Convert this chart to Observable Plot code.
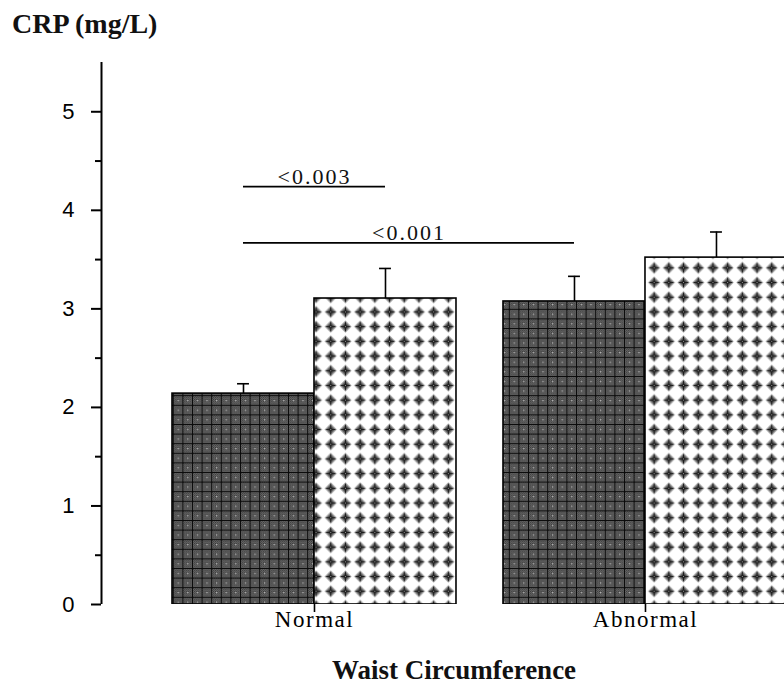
<!DOCTYPE html>
<html>
<head>
<meta charset="utf-8">
<script src="https://cdn.jsdelivr.net/npm/d3@7"></script>
<script src="https://cdn.jsdelivr.net/npm/@observablehq/plot@0.6"></script>
<style>
  html, body { margin: 0; padding: 0; background: white; }
  body { width: 784px; height: 690px; overflow: hidden; position: relative; }
  #title { position: absolute; left: 12px; top: 10px; font: bold 28px/27px "Liberation Serif", serif; color: #111; white-space: nowrap; }
  #chart { position: absolute; left: 0; top: 40px; }
  #xlabel { position: absolute; left: 454px; top: 657px; transform: translateX(-50%); font: bold 27px/27px "Liberation Serif", serif; color: #111; white-space: nowrap; }
  g[aria-label="x-axis tick label"] text { letter-spacing: 1.5px; }
  g[aria-label="text"] text { letter-spacing: 2px; }
</style>
</head>
<body>
<div id="title">CRP (mg/L)</div>
<div id="chart"></div>
<div id="xlabel">Waist Circumference</div>
<script>
// ---- data ----
const groups = ["Normal", "Abnormal"];
const meanSeries1 = [2.14, 3.075];   // dark cross-hatched bars
const upperSeries1 = [2.24, 3.33];   // top of error bars
const meanSeries2 = [3.105, 3.52];   // dotted bars
const upperSeries2 = [3.41, 3.78];
const yTicks = [0, 1, 2, 3, 4, 5];
const yMinorTicks = [0.5, 1.5, 2.5, 3.5, 4.5];
const pLabels = ["<0.003", "<0.001"];
const pLevels = [4.24, 3.67];
const pFromGroup = ["Normal", "Normal"];
const pFromSeries = [0, 0];
const pToGroup = ["Normal", "Abnormal"];
const pToSeries = [1, 0];

// ---- layout constants ----
const HW = 0.429;   // bar width in group units
const CAP = 0.018;  // half width of error-bar caps
const X0 = 0.3565;  // x position of y axis
const X1 = 2.42;

const bars = groups.flatMap((g, gi) => [
  {group: g, gi: gi + 1, s: 0, mean: meanSeries1[gi], upper: upperSeries1[gi]},
  {group: g, gi: gi + 1, s: 1, mean: meanSeries2[gi], upper: upperSeries2[gi]}
]);
const center = (g, s) => groups.indexOf(g) + 1 + (s ? HW / 2 : -HW / 2);
const comps = pLabels.map((label, i) => ({
  label, level: pLevels[i],
  x1: center(pFromGroup[i], pFromSeries[i]),
  x2: center(pToGroup[i], pToSeries[i])
}));

const plot = Plot.plot({
  width: 784, height: 600,
  marginLeft: 101, marginRight: 0, marginTop: 22, marginBottom: 36,
  x: {type: "linear", domain: [X0, X1], axis: null},
  y: {domain: [0, 5.5], axis: null},
  style: {background: "white", overflow: "hidden"},
  marks: [
    Plot.rectY(bars.filter(d => d.s === 0), {x1: d => d.gi - HW, x2: d => d.gi, y1: 0, y2: "mean", fill: "url(#darkPat)", stroke: "black", strokeWidth: 1.6, clip: true}),
    Plot.rectY(bars.filter(d => d.s === 1), {x1: d => d.gi, x2: d => d.gi + HW, y1: 0, y2: "mean", fill: "url(#dotPat)", stroke: "black", strokeWidth: 1.6, clip: true}),
    Plot.ruleX(bars, {x: d => center(d.group, d.s), y1: "mean", y2: "upper", stroke: "black", strokeWidth: 1.6, clip: true}),
    Plot.ruleY(bars, {y: "upper", x1: d => center(d.group, d.s) - CAP, x2: d => center(d.group, d.s) + CAP, stroke: "black", strokeWidth: 1.6, clip: true}),
    Plot.ruleY(comps, {y: "level", x1: "x1", x2: "x2", stroke: "black", strokeWidth: 1.6}),
    Plot.text(comps, {x: d => (d.x1 + d.x2) / 2, y: "level", text: "label", dy: -10, fontSize: 22, fontFamily: "Liberation Serif", fill: "#111"}),
    Plot.ruleX([X0], {y1: 0, y2: 5.5, stroke: "black", strokeWidth: 2}),
    Plot.axisY({ticks: yTicks, tickSize: 10, tickPadding: 17, fontSize: 22, fontFamily: "Liberation Sans", strokeWidth: 2, tickFormat: d => String(d)}),
    Plot.axisY({ticks: yMinorTicks, tickSize: 6, strokeWidth: 2, tickFormat: () => ""}),
    Plot.axisX({ticks: [1, 2], tickSize: 8, tickPadding: -2, fontSize: 23, fontFamily: "Liberation Serif", strokeWidth: 1.6, tickFormat: i => groups[i - 1]})
  ]
});

// patterns
const defs = d3.select(plot).insert("defs", ":first-child");
const chk = defs.append("pattern").attr("id", "chkPat").attr("width", 2).attr("height", 2).attr("patternUnits", "userSpaceOnUse");
chk.append("rect").attr("width", 2).attr("height", 2).attr("fill", "#7a7a7a");
chk.append("rect").attr("width", 1).attr("height", 1).attr("fill", "#333");
chk.append("rect").attr("x", 1).attr("y", 1).attr("width", 1).attr("height", 1).attr("fill", "#333");
const dk = defs.append("pattern").attr("id", "darkPat").attr("width", 9.6).attr("height", 9.6).attr("patternUnits", "userSpaceOnUse");
dk.append("rect").attr("width", 9.6).attr("height", 9.6).attr("fill", "url(#chkPat)");
dk.append("rect").attr("width", 9.6).attr("height", 1).attr("fill", "#0a0a0a");
dk.append("rect").attr("width", 1).attr("height", 9.6).attr("fill", "#0a0a0a");
dk.append("rect").attr("x", 5).attr("y", 5).attr("width", 1).attr("height", 1).attr("fill", "#e8e8e8");
const dt = defs.append("pattern").attr("id", "dotPat").attr("width", 14.7).attr("height", 14.7).attr("patternUnits", "userSpaceOnUse");
dt.append("rect").attr("width", 14.7).attr("height", 14.7).attr("fill", "white");
dt.append("polygon").attr("points", "7.35,1.3 13.4,7.35 7.35,13.4 1.3,7.35").attr("fill", "#a5a5a5");
dt.append("polygon").attr("points", "7.35,2.8 11.9,7.35 7.35,11.9 2.8,7.35").attr("fill", "#666");
dt.append("polygon").attr("points", "7.35,4.6 10.1,7.35 7.35,10.1 4.6,7.35").attr("fill", "#2a2a2a");
dt.append("rect").attr("x", 6.85).attr("y", 2.6).attr("width", 1).attr("height", 9.5).attr("fill", "#1a1a1a");
dt.append("rect").attr("x", 2.6).attr("y", 6.85).attr("width", 9.5).attr("height", 1).attr("fill", "#1a1a1a");
dt.append("rect").attr("x", 6.85).attr("y", 6.85).attr("width", 1).attr("height", 1).attr("fill", "#999");

document.getElementById("chart").appendChild(plot);
</script>
</body>
</html>
